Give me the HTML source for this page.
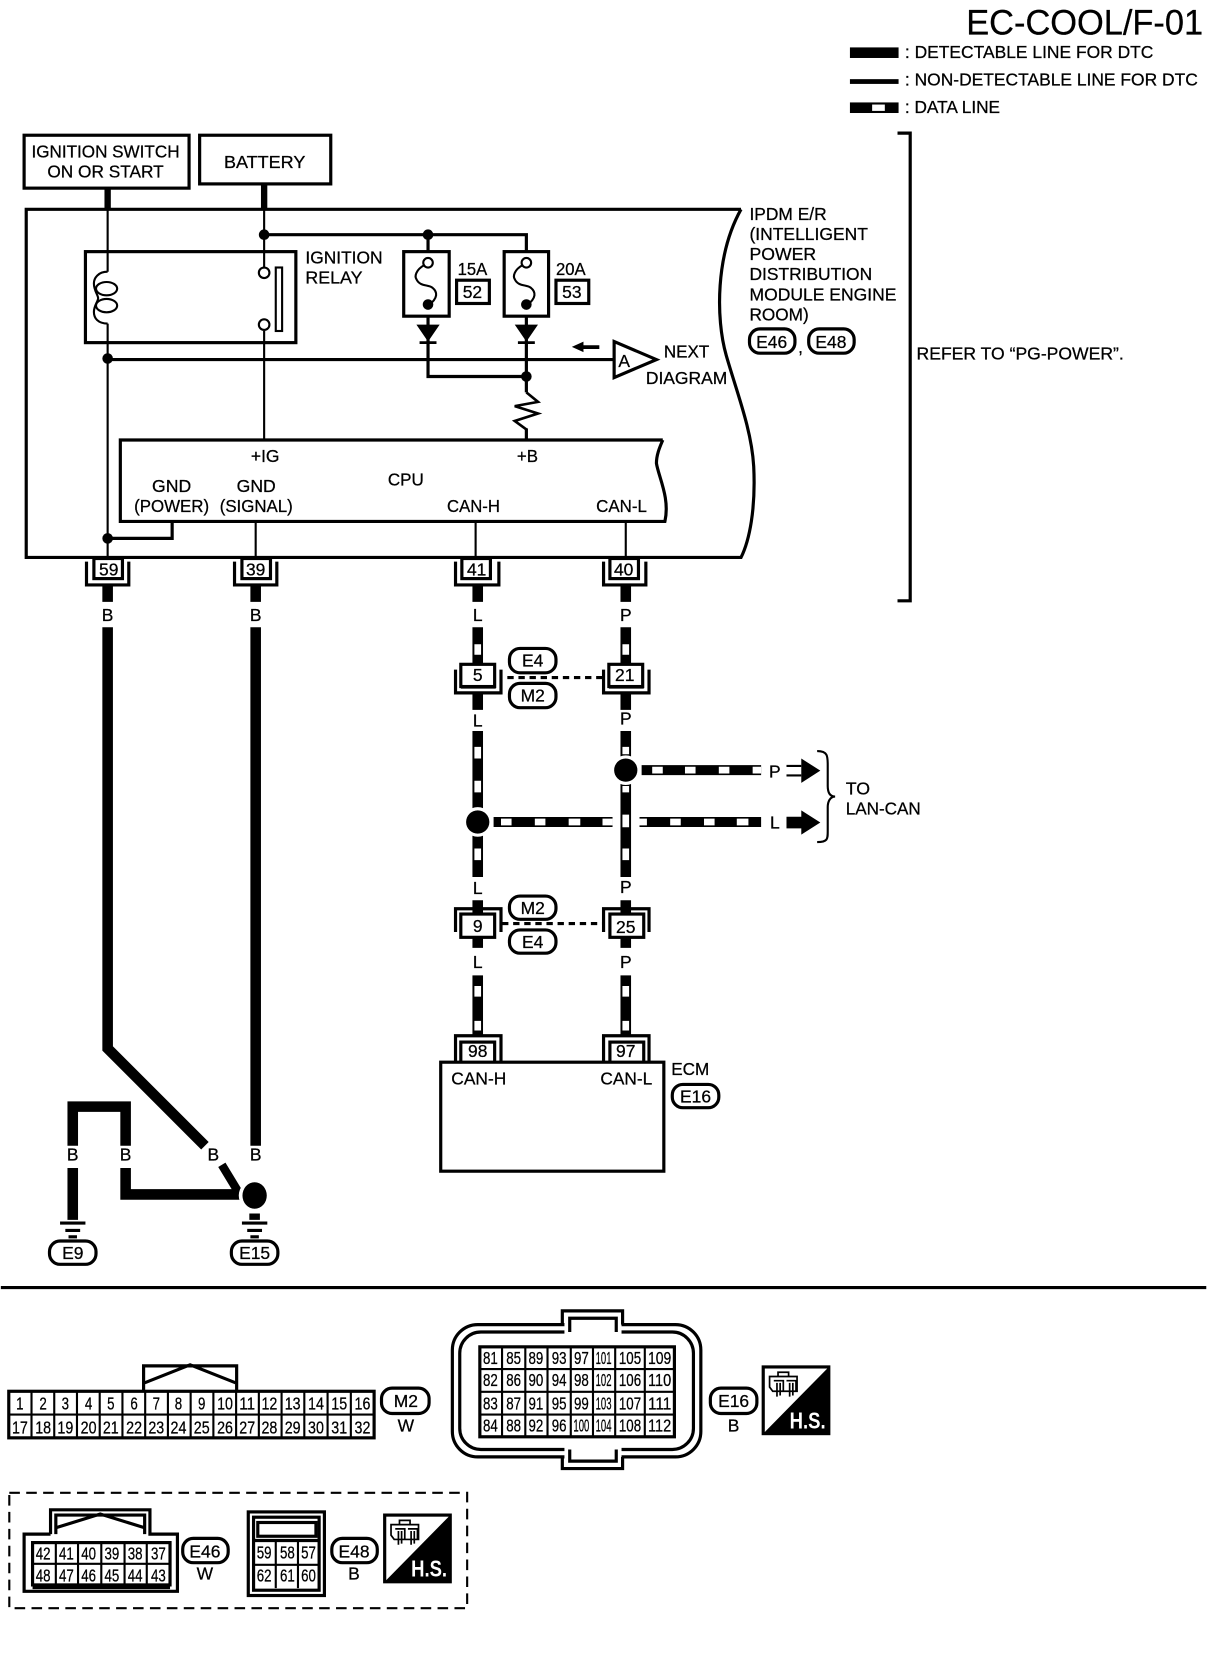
<!DOCTYPE html>
<html><head><meta charset="utf-8"><title>EC-COOL/F-01</title>
<style>
html,body{margin:0;padding:0;background:#fff}
svg{display:block}
text{font-family:"Liberation Sans",sans-serif;font-size:16.5px;fill:#000;stroke:#000;stroke-width:.25}
.m{text-anchor:middle}
.n{font-size:16.5px;text-anchor:middle}
.s{fill:none;stroke:#000;stroke-width:3}
.t{fill:none;stroke:#000;stroke-width:2}
.k{fill:none;stroke:#000;stroke-width:10}
.w{fill:none;stroke:#fff;stroke-width:6.3}
.g{fill:none;stroke:#000;stroke-width:3}
</style></head>
<body>
<svg xmlns="http://www.w3.org/2000/svg" width="1216" height="1660" viewBox="0 0 1150 1570" preserveAspectRatio="none">
<rect width="1150" height="1570" fill="#fff"/>
<g transform="translate(0.8,0.8) scale(1,1.0008)">

<!-- title + legend -->
<text x="913" y="32" style="font-size:33px" textLength="224" lengthAdjust="spacingAndGlyphs">EC-COOL/F-01</text>
<rect x="803" y="44" width="46" height="10"/>
<rect x="803" y="74" width="46" height="4.5"/>
<rect x="803" y="96" width="46" height="10"/><rect x="824" y="98" width="12" height="6" fill="#fff"/>
<text x="855" y="54" textLength="235" lengthAdjust="spacingAndGlyphs">: DETECTABLE LINE FOR DTC</text>
<text x="855" y="80" textLength="277" lengthAdjust="spacingAndGlyphs">: NON-DETECTABLE LINE FOR DTC</text>
<text x="855" y="106" textLength="90" lengthAdjust="spacingAndGlyphs">: DATA LINE</text>

<!-- sources -->
<rect class="s" x="22" y="127" width="156" height="50"/>
<rect class="s" x="188" y="127" width="124" height="46"/>
<text x="29" y="148" textLength="140" lengthAdjust="spacingAndGlyphs">IGNITION SWITCH</text>
<text x="44" y="167" textLength="110" lengthAdjust="spacingAndGlyphs">ON OR START</text>
<text x="211" y="158" textLength="77" lengthAdjust="spacingAndGlyphs">BATTERY</text>
<path d="M101 177V197M249 173V197" stroke="#000" stroke-width="6" fill="none"/>

<!-- module outline -->
<path class="s" d="M700 197H24V526H700C708 510 714 480 712 440C710 405 696 370 686 335C676 300 676 240 700 197"/>
<path class="t" d="M101 197V256M101 305V528M249 197V252M249 312V415"/>
<path class="s" d="M249 221H497V237M404 221V237"/>
<circle cx="249" cy="221" r="5"/><circle cx="404" cy="221" r="5"/>

<!-- relay -->
<rect class="s" x="80" y="237" width="199" height="86"/>
<path class="t" d="M101 256C92 256 88 262 88 267C88 274 92 278 92 281C92 284 88 288 88 294C88 300 92 305 101 305"/>
<ellipse class="t" cx="100" cy="272" rx="10" ry="6.300"/><ellipse class="t" cx="100" cy="288" rx="10" ry="6.300"/>
<circle class="t" cx="249" cy="257" r="5"/>
<circle class="t" cx="249" cy="306" r="5"/>
<rect class="t" x="260" y="252" width="6" height="60"/>
<text x="288" y="248" textLength="73" lengthAdjust="spacingAndGlyphs">IGNITION</text>
<text x="288" y="267" textLength="54" lengthAdjust="spacingAndGlyphs">RELAY</text>

<!-- fuses -->
<rect class="s" x="381" y="237" width="43" height="61"/>
<rect class="s" x="476" y="237" width="42" height="61"/>
<path class="t" d="M400 250C393 254 391 260 393 263C396 270 404 268 408 271C413 275 414 281 404 288"/>
<path class="t" d="M493 250C486 254 484 260 486 263C489 270 497 268 501 271C506 275 507 281 497 288"/>
<circle class="t" cx="404" cy="247.500" r="4.500"/><circle class="t" cx="497" cy="247.500" r="4.500"/>
<circle cx="404" cy="287" r="5"/><circle cx="497" cy="287" r="5"/>
<text x="432" y="259" textLength="28" lengthAdjust="spacingAndGlyphs">15A</text>
<text x="525" y="259" textLength="28" lengthAdjust="spacingAndGlyphs">20A</text>
<rect class="g" x="431" y="264" width="31" height="22"/><rect class="g" x="525" y="264" width="31" height="22"/>
<text class="m" x="446" y="281">52</text><text class="m" x="540" y="281">53</text>

<!-- diodes -->
<path class="s" d="M404 298V355H497M497 298V370M497 404V415"/>
<path d="M393 306H415L404 322Z M486 306H508L497 322Z"/>
<path d="M396 323H412M489 323H505" stroke="#000" stroke-width="2.500"/>
<circle cx="497" cy="355" r="5"/>
<path class="s" style="stroke-width:2.500" d="M497 370L508 379L486 383L508 390L486 397L497 405"/>

<!-- next diagram -->
<path class="s" d="M101 339H580"/>
<circle cx="101" cy="338" r="5"/>
<path class="s" d="M580 322V356L620 339Z" style="fill:#fff"/>
<text x="584" y="346" textLength="11" lengthAdjust="spacingAndGlyphs">A</text>
<path d="M540 327L551 322V325.500H566V329H551V332Z"/>
<text x="627" y="337" textLength="43" lengthAdjust="spacingAndGlyphs">NEXT</text>
<text x="610" y="362" textLength="77" lengthAdjust="spacingAndGlyphs">DIAGRAM</text>

<!-- CPU -->
<path class="s" d="M626 415H113V492H628C633 470 622 450 620 437C620 428 624 420 626 415"/>
<text class="m" x="250" y="436" textLength="27" lengthAdjust="spacingAndGlyphs">+IG</text>
<text class="m" x="498" y="436" textLength="20" lengthAdjust="spacingAndGlyphs">+B</text>
<text x="143" y="464" textLength="37" lengthAdjust="spacingAndGlyphs">GND</text>
<text x="223" y="464" textLength="37" lengthAdjust="spacingAndGlyphs">GND</text>
<text x="126" y="483" textLength="71" lengthAdjust="spacingAndGlyphs">(POWER)</text>
<text x="207" y="483" textLength="69" lengthAdjust="spacingAndGlyphs">(SIGNAL)</text>
<text x="366" y="458" textLength="34" lengthAdjust="spacingAndGlyphs">CPU</text>
<text x="422" y="483" textLength="50" lengthAdjust="spacingAndGlyphs">CAN-H</text>
<text x="563" y="483" textLength="48" lengthAdjust="spacingAndGlyphs">CAN-L</text>
<path class="s" d="M162 492V508H101"/>
<circle cx="101" cy="508" r="5"/>
<path class="t" d="M241 492V528M449 492V528M591 492V528"/>

<!-- IPDM labels -->
<text x="708" y="207" textLength="73" lengthAdjust="spacingAndGlyphs">IPDM E/R</text>
<text x="708" y="226" textLength="112" lengthAdjust="spacingAndGlyphs">(INTELLIGENT</text>
<text x="708" y="245" textLength="63" lengthAdjust="spacingAndGlyphs">POWER</text>
<text x="708" y="264" textLength="116" lengthAdjust="spacingAndGlyphs">DISTRIBUTION</text>
<text x="708" y="283" textLength="139" lengthAdjust="spacingAndGlyphs">MODULE ENGINE</text>
<text x="708" y="302" textLength="56" lengthAdjust="spacingAndGlyphs">ROOM)</text>
<rect class="g" x="708" y="310" width="43" height="23" rx="10"/><text class="m" x="729" y="328">E46</text>
<text x="754" y="333">,</text>
<rect class="g" x="764" y="310" width="43" height="23" rx="10"/><text class="m" x="785" y="328">E48</text>
<text x="866" y="339" textLength="196" lengthAdjust="spacingAndGlyphs">REFER TO “PG-POWER”.</text>
<path class="s" d="M848 125H860V567H848"/>

<!-- top connectors -->
<path class="g" d="M81 530V552H121V530"/><rect class="g" x="88" y="527" width="27" height="19" style="fill:#fff"/><text class="n" x="102" y="543">59</text>
<path class="g" d="M221 530V552H261V530"/><rect class="g" x="228" y="527" width="27" height="19" style="fill:#fff"/><text class="n" x="241" y="543">39</text>
<path class="g" d="M430 530V552H471V530"/><rect class="g" x="436" y="527" width="27" height="19" style="fill:#fff"/><text class="n" x="450" y="543">41</text>
<path class="g" d="M570 530V552H610V530"/><rect class="g" x="576" y="527" width="27" height="19" style="fill:#fff"/><text class="n" x="589" y="543">40</text>
<path class="k" d="M101 553V568M241 553V568M451 553V568M591 553V568"/>
<text class="n" x="101" y="586">B</text><text class="n" x="241" y="586">B</text><text class="n" x="451" y="586">L</text><text class="n" x="591" y="586">P</text>

<!-- ground wires -->
<path fill="none" stroke="#000" stroke-width="10" d="M101 592V990L193 1082M241 592V1082M118 1103V1128H232M68 1082V1045H118V1082M68 1103V1152"/>
<path fill="none" stroke="#000" stroke-width="8" d="M209 1100L226 1128"/>
<text class="n" x="201" y="1096">B</text><text class="n" x="241" y="1096">B</text>
<text class="n" x="68" y="1096">B</text><text class="n" x="118" y="1096">B</text>
<circle cx="240" cy="1129" r="15" fill="#fff"/>
<ellipse cx="240" cy="1129" rx="11.500" ry="12.500"/>
<path class="k" d="M240 1146V1152"/>
<path d="M56 1155H80M61 1162H75M64 1168H72M228 1155H252M233 1162H247M236 1168H244" stroke="#000" stroke-width="3"/>
<rect class="g" x="46" y="1172" width="44" height="22" rx="10"/><text class="m" x="68" y="1189">E9</text>
<rect class="g" x="218" y="1172" width="44" height="22" rx="10"/><text class="m" x="240" y="1189">E15</text>

<!-- data lines -->
<path class="k" d="M451 592V626M451 655V670M451 690V828M451 850V862M451 884V895M451 921V977
M591 592V626M591 655V670M591 690V828M591 850V862M591 884V895M591 921V977"/>
<path class="k" style="stroke-width:9.500" d="M606 727H719M466 776H578.500M604 776H719"/>
<path class="w" d="M451 608V618M451 705V716M451 737V748M451 801V812M451 931V941M451 964V973M591 608V618M591 705V712M591 742V748M591 769V781M591 801V812M591 931V941M591 964V973"/>
<path class="w" d="M616 727H626M647 727H657M679 727H689M711 727H719M473 776H483M505 776H515M537 776H548M569 776H578.500M604 776H611M633 776H643M665 776H675M696 776H707"/>
<circle cx="451" cy="776" r="14" fill="#fff"/><circle cx="591" cy="727" r="14" fill="#fff"/>
<circle cx="451" cy="776" r="11"/>
<circle cx="591" cy="727" r="11"/>
<text class="n" x="451" y="686">L</text><text class="n" x="591" y="684">P</text>
<text class="n" x="451" y="844">L</text><text class="n" x="591" y="843">P</text>
<text class="n" x="451" y="914">L</text><text class="n" x="591" y="914">P</text>
<text class="n" x="732" y="734">P</text><text class="n" x="732" y="782">L</text>
<path d="M743 723H757M743 732H757" stroke="#000" stroke-width="2"/>
<path d="M757 716L775 727.500L757 739Z"/>
<path d="M757 765L775 776.500L757 788V782H743V771H757Z"/>
<path class="t" d="M772 709C782 709 782 714 782 722V742C782 748 784 752 789 752C784 752 782 757 782 762V785C782 792 782 795 772 795"/>
<text x="799" y="750" textLength="23" lengthAdjust="spacingAndGlyphs">TO</text>
<text x="799" y="769" textLength="71" lengthAdjust="spacingAndGlyphs">LAN-CAN</text>

<!-- mid connectors -->
<path class="g" d="M430 632V654H473V632M570 632V654H613V632"/>
<path class="t" d="M435 649H468M575 649H608"/>
<rect class="s" x="435" y="627" width="32" height="21" style="fill:#fff"/><text class="n" x="451" y="643">5</text>
<rect class="s" x="575" y="627" width="32" height="21" style="fill:#fff"/><text class="n" x="590" y="643">21</text>
<path d="M479 639.500H570" stroke="#000" stroke-width="3" stroke-dasharray="6 4.500"/>
<rect class="g" x="481" y="612" width="44" height="23" rx="10"/><text class="m" x="503" y="629">E4</text>
<rect class="g" x="481" y="645" width="44" height="23" rx="10"/><text class="m" x="503" y="662">M2</text>

<path class="g" d="M430 880V858H473V880M570 880V858H613V880"/>
<rect class="s" x="435" y="863" width="32" height="22" style="fill:#fff"/><text class="n" x="451" y="880">9</text>
<rect class="s" x="576" y="863" width="32" height="22" style="fill:#fff"/><text class="n" x="591" y="881">25</text>
<path d="M474 872H570" stroke="#000" stroke-width="3" stroke-dasharray="6 4.500"/>
<rect class="g" x="481" y="846" width="44" height="22" rx="10"/><text class="m" x="503" y="863">M2</text>
<rect class="g" x="481" y="878" width="44" height="22" rx="10"/><text class="m" x="503" y="895">E4</text>

<!-- ECM -->
<path class="g" d="M430 1003V978H473V1003M570 1003V978H613V1003"/>
<rect class="g" x="435" y="984" width="32" height="20" style="fill:#fff"/><text class="n" x="451" y="998">98</text>
<rect class="g" x="576" y="984" width="32" height="20" style="fill:#fff"/><text class="n" x="591" y="998">97</text>
<rect class="s" x="416" y="1003" width="211" height="103" style="fill:#fff"/>
<text x="426" y="1024" textLength="52" lengthAdjust="spacingAndGlyphs">CAN-H</text>
<text x="567" y="1024" textLength="49" lengthAdjust="spacingAndGlyphs">CAN-L</text>
<text x="634" y="1015" textLength="36" lengthAdjust="spacingAndGlyphs">ECM</text>
<rect class="g" x="635" y="1024" width="44" height="22" rx="10"/><text class="m" x="657" y="1041">E16</text>

<path d="M0 1216H1140" stroke="#000" stroke-width="3"/>

<!-- M2 connector -->
<path class="s" d="M135 1313V1290H223V1313"/>
<path class="s" d="M136 1306L179 1289L222 1306"/>
<rect x="7.500" y="1314" width="345.500" height="44" fill="#fff" stroke="#000" stroke-width="3"/>
<path class="t" d="M7 1336H353M29 1314V1358M50.500 1314V1358M72 1314V1358M93.500 1314V1358M115 1314V1358M136.500 1314V1358M158 1314V1358M179.500 1314V1358M201 1314V1358M222.500 1314V1358M244 1314V1358M265.500 1314V1358M287 1314V1358M309 1314V1358M331 1314V1358"/>
<g>
<text class="n" x="18" y="1331" textLength="7" lengthAdjust="spacingAndGlyphs">1</text><text class="n" x="40" y="1331" textLength="7" lengthAdjust="spacingAndGlyphs">2</text><text class="n" x="61" y="1331" textLength="7" lengthAdjust="spacingAndGlyphs">3</text><text class="n" x="83" y="1331" textLength="7" lengthAdjust="spacingAndGlyphs">4</text><text class="n" x="104" y="1331" textLength="7" lengthAdjust="spacingAndGlyphs">5</text><text class="n" x="126" y="1331" textLength="7" lengthAdjust="spacingAndGlyphs">6</text><text class="n" x="147" y="1331" textLength="7" lengthAdjust="spacingAndGlyphs">7</text><text class="n" x="168" y="1331" textLength="7" lengthAdjust="spacingAndGlyphs">8</text><text class="n" x="190" y="1331" textLength="7" lengthAdjust="spacingAndGlyphs">9</text><text class="n" x="212" y="1331" textLength="15" lengthAdjust="spacingAndGlyphs">10</text><text class="n" x="233" y="1331" textLength="15" lengthAdjust="spacingAndGlyphs">11</text><text class="n" x="254" y="1331" textLength="15" lengthAdjust="spacingAndGlyphs">12</text><text class="n" x="276" y="1331" textLength="15" lengthAdjust="spacingAndGlyphs">13</text><text class="n" x="298" y="1331" textLength="15" lengthAdjust="spacingAndGlyphs">14</text><text class="n" x="320" y="1331" textLength="15" lengthAdjust="spacingAndGlyphs">15</text><text class="n" x="342" y="1331" textLength="15" lengthAdjust="spacingAndGlyphs">16</text>
<text class="n" x="18" y="1354" textLength="15" lengthAdjust="spacingAndGlyphs">17</text><text class="n" x="40" y="1354" textLength="15" lengthAdjust="spacingAndGlyphs">18</text><text class="n" x="61" y="1354" textLength="15" lengthAdjust="spacingAndGlyphs">19</text><text class="n" x="83" y="1354" textLength="15" lengthAdjust="spacingAndGlyphs">20</text><text class="n" x="104" y="1354" textLength="15" lengthAdjust="spacingAndGlyphs">21</text><text class="n" x="126" y="1354" textLength="15" lengthAdjust="spacingAndGlyphs">22</text><text class="n" x="147" y="1354" textLength="15" lengthAdjust="spacingAndGlyphs">23</text><text class="n" x="168" y="1354" textLength="15" lengthAdjust="spacingAndGlyphs">24</text><text class="n" x="190" y="1354" textLength="15" lengthAdjust="spacingAndGlyphs">25</text><text class="n" x="212" y="1354" textLength="15" lengthAdjust="spacingAndGlyphs">26</text><text class="n" x="233" y="1354" textLength="15" lengthAdjust="spacingAndGlyphs">27</text><text class="n" x="254" y="1354" textLength="15" lengthAdjust="spacingAndGlyphs">28</text><text class="n" x="276" y="1354" textLength="15" lengthAdjust="spacingAndGlyphs">29</text><text class="n" x="298" y="1354" textLength="15" lengthAdjust="spacingAndGlyphs">30</text><text class="n" x="320" y="1354" textLength="15" lengthAdjust="spacingAndGlyphs">31</text><text class="n" x="342" y="1354" textLength="15" lengthAdjust="spacingAndGlyphs">32</text>
</g>
<rect class="g" x="360" y="1311" width="45" height="24" rx="10"/><text class="m" x="383" y="1329">M2</text>
<text class="m" x="383" y="1352">W</text>

<!-- E16 connector -->
<rect class="g" x="427" y="1251" width="235" height="125" rx="24"/>
<rect class="g" x="434" y="1258" width="221" height="111" rx="20"/>
<path fill="#fff" stroke="none" d="M533 1248H587V1262H533ZM533 1366H587V1380H533Z"/>
<path class="g" d="M531 1251V1238H588V1251M538 1258V1245H582V1258"/>
<path class="g" d="M531 1376V1387H588V1376M538 1369V1380H582V1369"/>
<rect class="s" x="453" y="1272" width="184" height="85"/>
<path class="t" d="M453 1293H637M453 1314.500H637M453 1336H637M474 1272V1357M496 1272V1357M517 1272V1357M539 1272V1357M560 1272V1357M581 1272V1357M609 1272V1357"/>
<g>
<text class="n" x="463" y="1288" textLength="14" lengthAdjust="spacingAndGlyphs">81</text><text class="n" x="485" y="1288" textLength="14" lengthAdjust="spacingAndGlyphs">85</text><text class="n" x="506" y="1288" textLength="14" lengthAdjust="spacingAndGlyphs">89</text><text class="n" x="528" y="1288" textLength="14" lengthAdjust="spacingAndGlyphs">93</text><text class="n" x="549" y="1288" textLength="14" lengthAdjust="spacingAndGlyphs">97</text><text class="n" x="570" y="1288" textLength="15" lengthAdjust="spacingAndGlyphs">101</text><text class="n" x="595" y="1288" textLength="21" lengthAdjust="spacingAndGlyphs">105</text><text class="n" x="623" y="1288" textLength="22" lengthAdjust="spacingAndGlyphs">109</text>
<text class="n" x="463" y="1309" textLength="14" lengthAdjust="spacingAndGlyphs">82</text><text class="n" x="485" y="1309" textLength="14" lengthAdjust="spacingAndGlyphs">86</text><text class="n" x="506" y="1309" textLength="14" lengthAdjust="spacingAndGlyphs">90</text><text class="n" x="528" y="1309" textLength="14" lengthAdjust="spacingAndGlyphs">94</text><text class="n" x="549" y="1309" textLength="14" lengthAdjust="spacingAndGlyphs">98</text><text class="n" x="570" y="1309" textLength="15" lengthAdjust="spacingAndGlyphs">102</text><text class="n" x="595" y="1309" textLength="21" lengthAdjust="spacingAndGlyphs">106</text><text class="n" x="623" y="1309" textLength="22" lengthAdjust="spacingAndGlyphs">110</text>
<text class="n" x="463" y="1331" textLength="14" lengthAdjust="spacingAndGlyphs">83</text><text class="n" x="485" y="1331" textLength="14" lengthAdjust="spacingAndGlyphs">87</text><text class="n" x="506" y="1331" textLength="14" lengthAdjust="spacingAndGlyphs">91</text><text class="n" x="528" y="1331" textLength="14" lengthAdjust="spacingAndGlyphs">95</text><text class="n" x="549" y="1331" textLength="14" lengthAdjust="spacingAndGlyphs">99</text><text class="n" x="570" y="1331" textLength="15" lengthAdjust="spacingAndGlyphs">103</text><text class="n" x="595" y="1331" textLength="21" lengthAdjust="spacingAndGlyphs">107</text><text class="n" x="623" y="1331" textLength="22" lengthAdjust="spacingAndGlyphs">111</text>
<text class="n" x="463" y="1352" textLength="14" lengthAdjust="spacingAndGlyphs">84</text><text class="n" x="485" y="1352" textLength="14" lengthAdjust="spacingAndGlyphs">88</text><text class="n" x="506" y="1352" textLength="14" lengthAdjust="spacingAndGlyphs">92</text><text class="n" x="528" y="1352" textLength="14" lengthAdjust="spacingAndGlyphs">96</text><text class="n" x="549" y="1352" textLength="15" lengthAdjust="spacingAndGlyphs">100</text><text class="n" x="570" y="1352" textLength="15" lengthAdjust="spacingAndGlyphs">104</text><text class="n" x="595" y="1352" textLength="21" lengthAdjust="spacingAndGlyphs">108</text><text class="n" x="623" y="1352" textLength="22" lengthAdjust="spacingAndGlyphs">112</text>
</g>
<rect class="g" x="671" y="1311" width="44" height="24" rx="10"/><text class="m" x="693" y="1329">E16</text>
<text class="m" x="693" y="1352">B</text>
<!-- H.S. 1 -->
<rect x="721" y="1291" width="62" height="63" fill="none" stroke="#000" stroke-width="3"/>
<path d="M721 1354L783 1291V1354Z"/>
<text x="746" y="1349" style="font-size:22px;font-weight:bold;fill:#fff;stroke:none" textLength="34" lengthAdjust="spacingAndGlyphs">H.S.</text>
<path class="t" style="stroke-width:1.600" d="M727 1300H753V1314H730L727 1310ZM735 1300V1296H745V1300M731 1304H740V1314M743 1304H752V1314M734 1306V1319M737 1306V1318M746 1306V1319M749 1306V1318"/>

<!-- dashed panel -->
<rect x="8" y="1410" width="433" height="109" fill="none" stroke="#000" stroke-width="2" stroke-dasharray="10 6"/>
<!-- E46 -->
<path class="g" d="M47 1449V1426H141V1449H167V1503H22V1449H47"/>
<path class="g" d="M52 1449V1431H136V1449"/>
<path class="s" d="M52 1443L94 1430L136 1443"/>
<rect class="s" x="30" y="1457" width="130" height="40"/>
<path d="M30 1499H160" stroke="#000" stroke-width="4"/>
<path class="t" d="M30 1477H160M52 1457V1497M73 1457V1497M95 1457V1497M117 1457V1497M138 1457V1497"/>
<text class="n" x="40" y="1473" textLength="14" lengthAdjust="spacingAndGlyphs">42</text><text class="n" x="62" y="1473" textLength="14" lengthAdjust="spacingAndGlyphs">41</text><text class="n" x="83" y="1473" textLength="14" lengthAdjust="spacingAndGlyphs">40</text><text class="n" x="105" y="1473" textLength="14" lengthAdjust="spacingAndGlyphs">39</text><text class="n" x="127" y="1473" textLength="14" lengthAdjust="spacingAndGlyphs">38</text><text class="n" x="149" y="1473" textLength="14" lengthAdjust="spacingAndGlyphs">37</text>
<text class="n" x="40" y="1494" textLength="14" lengthAdjust="spacingAndGlyphs">48</text><text class="n" x="62" y="1494" textLength="14" lengthAdjust="spacingAndGlyphs">47</text><text class="n" x="83" y="1494" textLength="14" lengthAdjust="spacingAndGlyphs">46</text><text class="n" x="105" y="1494" textLength="14" lengthAdjust="spacingAndGlyphs">45</text><text class="n" x="127" y="1494" textLength="14" lengthAdjust="spacingAndGlyphs">44</text><text class="n" x="149" y="1494" textLength="14" lengthAdjust="spacingAndGlyphs">43</text>
<rect class="g" x="172" y="1453" width="43" height="23" rx="10"/><text class="m" x="193" y="1471">E46</text>
<text class="m" x="193" y="1492">W</text>
<!-- E48 -->
<rect class="s" x="234" y="1428" width="72" height="79"/>
<rect class="s" x="239" y="1433" width="62" height="69"/>
<rect class="s" x="243" y="1438" width="55" height="13"/>
<path class="s" d="M239 1455H301"/>
<path class="t" d="M239 1478H301M260 1455V1500M281 1455V1500"/>
<text class="n" x="249" y="1472" textLength="14" lengthAdjust="spacingAndGlyphs">59</text><text class="n" x="271" y="1472" textLength="14" lengthAdjust="spacingAndGlyphs">58</text><text class="n" x="291" y="1472" textLength="14" lengthAdjust="spacingAndGlyphs">57</text>
<text class="n" x="249" y="1494" textLength="14" lengthAdjust="spacingAndGlyphs">62</text><text class="n" x="271" y="1494" textLength="14" lengthAdjust="spacingAndGlyphs">61</text><text class="n" x="291" y="1494" textLength="14" lengthAdjust="spacingAndGlyphs">60</text>
<rect class="g" x="313" y="1453" width="43" height="23" rx="10"/><text class="m" x="334" y="1471">E48</text>
<text class="m" x="334" y="1492">B</text>
<!-- H.S. 2 -->
<rect x="363" y="1431" width="62" height="63" fill="none" stroke="#000" stroke-width="3"/>
<path d="M363 1494L425 1431V1494Z"/>
<text x="388" y="1489" style="font-size:22px;font-weight:bold;fill:#fff;stroke:none" textLength="34" lengthAdjust="spacingAndGlyphs">H.S.</text>
<path class="t" style="stroke-width:1.600" d="M369 1440H395V1454H372L369 1450ZM377 1440V1436H387V1440M373 1444H382V1454M385 1444H394V1454M376 1446V1459M379 1446V1458M388 1446V1459M391 1446V1458"/>
</g>
</svg>
</body></html>
